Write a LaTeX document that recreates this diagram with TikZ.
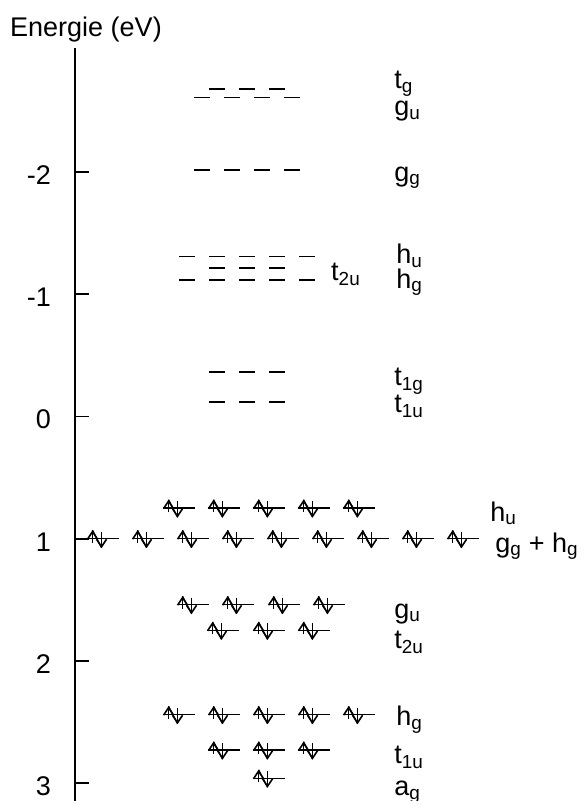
\documentclass[tikz,border=0pt]{standalone}
\usepackage{fontspec}
\setmainfont{Liberation Sans}
\usetikzlibrary{arrows.meta}

\begin{document}
\begin{tikzpicture}[x=1pt,y=-122.2pt]

	% Estilos
	\tikzset{
		eje/.style={line width=1.8pt},
		orbital/.style={line width=1.8pt},
		etiqueta/.style={anchor=base west, inner sep=0pt, font=\fontsize{27}{31}\selectfont},
		espin/.style={line width=1.6pt, -{Straight Barb[length=7.5pt,width=10pt]}},
		parelectron/.pic={
			\draw[line width=1.5pt] (-16pt,0pt) -- (16pt,0pt);
			\draw[espin] (-10.5pt,-4pt) -- (-10.5pt,8.5pt);
			\draw[line width=1.3pt] (-10.5pt,8.5pt) -- (-1.5pt,-9pt);
			\draw[espin] (-1.5pt,7pt) -- (-1.5pt,-9.5pt);
		}
	}

	\useasboundingbox (0,-3.408) rectangle (585,3.146);

	% Eje
	\coordinate (arriba) at (75,-3.016);
	\coordinate (abajo) at (75,3.146);
	\draw[eje] (arriba) -- (abajo);
	\node[etiqueta] (titulo) at (10,-3.106) {Energie (eV)};
	\foreach \e [count=\i] in {-2,-1,0,1,2,3} {
		\draw[eje] (75,\e) -- (89,\e);
		\node[anchor=east, inner sep=0pt, yshift=-3pt, font=\fontsize{27}{31}\selectfont] (marca\i) at (51,\e) {\e};
	}

	% Niveles vacios
	\foreach \xc in {217,247,277} \draw[orbital] (\xc-8,-2.68) -- (\xc+8,-2.68);
	\foreach \xc in {202,232,262,292} \draw[orbital] (\xc-8,-2.61) -- (\xc+8,-2.61);
	\foreach \xc in {202,232,262,292} \draw[orbital] (\xc-8,-2.02) -- (\xc+8,-2.02);
	\foreach \xc in {187,217,247,277,307} \draw[orbital] (\xc-8,-1.31) -- (\xc+8,-1.31);
	\foreach \xc in {217,247,277} \draw[orbital] (\xc-8,-1.215) -- (\xc+8,-1.215);
	\foreach \xc in {187,217,247,277,307} \draw[orbital] (\xc-8,-1.12) -- (\xc+8,-1.12);
	\foreach \xc in {217,247,277} \draw[orbital] (\xc-8,-0.365) -- (\xc+8,-0.365);
	\foreach \xc in {217,247,277} \draw[orbital] (\xc-8,-0.12) -- (\xc+8,-0.12);

	% Niveles ocupados
	\foreach \xc in {179,224,269,314,359} \pic at (\xc,0.75) {parelectron};
	\foreach \xc in {103,148,193,238,283,328,373,418,463} \pic at (\xc,1) {parelectron};
	\foreach \xc in {193,238,284,329} \pic at (\xc,1.54) {parelectron};
	\foreach \xc in {223,269,314} \pic at (\xc,1.75) {parelectron};
	\foreach \xc in {179,224,269,314,359} \pic at (\xc,2.44) {parelectron};
	\foreach \xc in {224,269,314} \pic at (\xc,2.73) {parelectron};
	\pic at (269,2.96) {parelectron};

	% Etiquetas
	\node[etiqueta] (tg) at (394,-2.685) {t\textsubscript{g}};
	\node[etiqueta] (gu) at (394,-2.46) {g\textsubscript{u}};
	\node[etiqueta] (gg) at (394,-1.927) {g\textsubscript{g}};
	\node[etiqueta] (hu) at (396,-1.25) {h\textsubscript{u}};
	\node[etiqueta] (hg) at (396,-1.05) {h\textsubscript{g}};
	\node[etiqueta] (tzu) at (331,-1.109) {t\textsubscript{2u}};
	\node[etiqueta] (tug) at (394,-0.25) {t\textsubscript{1g}};
	\node[etiqueta] (tuu) at (394,-0.03) {t\textsubscript{1u}};
	\node[etiqueta] (huo) at (490,0.855) {h\textsubscript{u}};
	\node[etiqueta] (ggo) at (495,1.11) {g\textsubscript{g} + h\textsubscript{g}};
	\node[etiqueta] (guo) at (394,1.65) {g\textsubscript{u}};
	\node[etiqueta] (tzuo) at (394,1.9) {t\textsubscript{2u}};
	\node[etiqueta] (hgo) at (396,2.53) {h\textsubscript{g}};
	\node[etiqueta] (tuuo) at (394,2.84) {t\textsubscript{1u}};
	\node[etiqueta] (ag) at (394,3.10) {a\textsubscript{g}};

\end{tikzpicture}
\end{document}
